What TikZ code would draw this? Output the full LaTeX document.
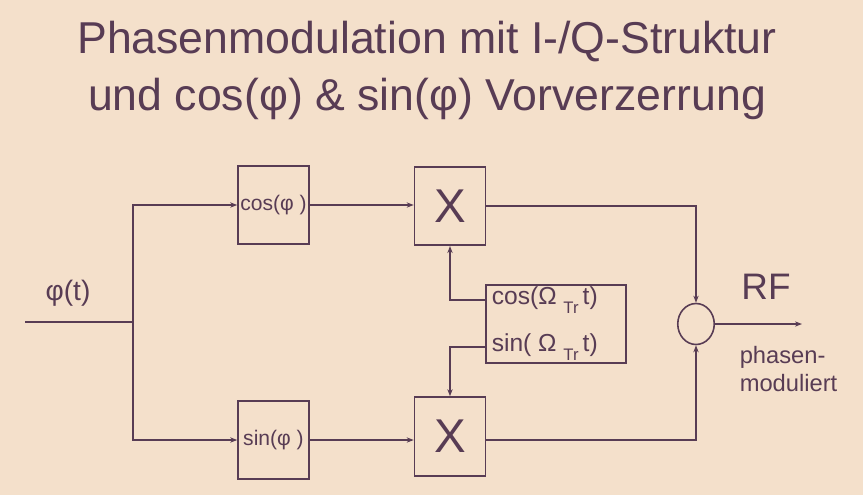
\documentclass[tikz,border=0pt]{standalone}
\usepackage{fontspec}
\setmainfont{Liberation Sans}
\usepackage{tikz}
\usetikzlibrary{arrows.meta,positioning,shapes.geometric}
\usepackage{xcolor}
\definecolor{ink}{RGB}{88,60,84}
\definecolor{paper}{RGB}{244,224,203}

\begin{document}
\begin{tikzpicture}[x=0.02cm,y=-0.02cm,
    color=ink, line width=0.9pt,
    >={Stealth[length=4pt,width=3pt]},
    blk/.style={draw, minimum width=1.42cm, minimum height=1.56cm, inner sep=0pt},
    lbl/.style={inner sep=0pt}]

    % 1. Background and Title
    \fill[paper] (0,0) rectangle (863,495);
    \useasboundingbox (0,0) rectangle (863,495);
    \node[lbl, anchor=base] (title1) at (427,53)
        {\fontsize{25.4}{30}\selectfont Phasenmodulation mit I-/Q-Struktur};
    \node[lbl, anchor=base] (title2) at (427,110)
        {\fontsize{25.4}{30}\selectfont und cos(φ) \& sin(φ) Vorverzerrung};

    % 2. Input and Splitting Point
    \coordinate (in) at (25,322);
    \coordinate (split) at (133,322);
    \node[lbl] (phi) at (68,293) {\fontsize{16}{18}\selectfont φ(t)};

    % 3. Pre-distortion Blocks
    \node[blk] (cosb) at (273.5,205) {\fontsize{12}{14}\selectfont cos(φ )};
    \node[blk] (sinb) at (273.5,440) {\fontsize{12}{14}\selectfont sin(φ )};

    % 4. Multipliers
    \node[blk, minimum height=1.57cm] (mulc) at (450,206) {\fontsize{27}{30}\selectfont X};
    \node[blk, minimum height=1.58cm] (muls) at (450,436.5) {\fontsize{27}{30}\selectfont X};

    % 5. Carrier Oscillator
    \node[draw, minimum width=2.8cm, minimum height=1.56cm] (osc) at (556,324) {};
    \coordinate (oscc) at (486,300);
    \coordinate (oscs) at (486,347);
    \node[lbl, anchor=west] (osctxt1) at (491,300)
        {\fontsize{14}{16}\selectfont cos(Ω\;\raisebox{-0.7ex}{\fontsize{9.5}{10}\selectfont Tr}\,t)};
    \node[lbl, anchor=west] (osctxt2) at (491,347)
        {\fontsize{14}{16}\selectfont sin( Ω\;\raisebox{-0.7ex}{\fontsize{9.5}{10}\selectfont Tr}\,t)};

    % 6. Summing Point and Output
    \node[draw, ellipse, minimum width=0.73cm, minimum height=0.82cm, inner sep=0pt] (sum) at (696,324) {};
    \coordinate (out) at (802,324);
    \node[lbl] (rf) at (766,287) {\fontsize{21}{24}\selectfont RF};
    \node[lbl, anchor=west, align=left, font=\fontsize{13.5}{16}\selectfont] (pm) at (739,369)
        {phasen-\\moduliert};

    % 7. Connections
    \draw (in) -- (split);
    \draw[->] (split) |- (cosb);
    \draw[->] (split) |- (sinb);
    \draw[->] (cosb.east) -- (cosb.east -| mulc.west);
    \draw[->] (sinb.east) -- (sinb.east -| muls.west);
    \draw[->] (oscc) -| (mulc.south);
    \draw[->] (oscs) -| (muls.north);
    \draw[->] (mulc.east) -| (sum.north);
    \draw[->] (sinb.east -| muls.east) -| (sum.south);
    \draw[->] (sum.east) -- (out);

\end{tikzpicture}
\end{document}
